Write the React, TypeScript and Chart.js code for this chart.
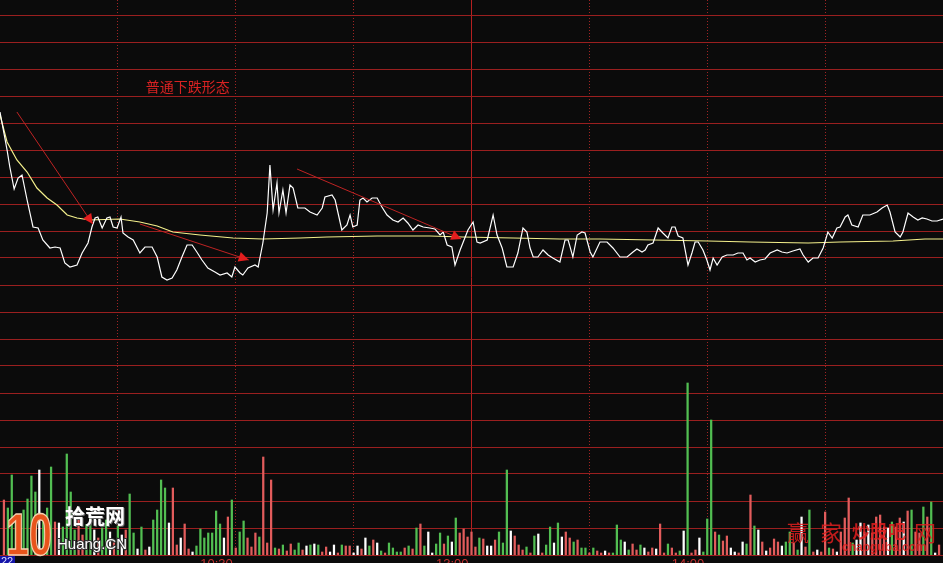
import React, { useEffect, useRef } from 'react';
import { Chart, registerables } from 'chart.js';

Chart.register(...registerables);

// ---------- data (minutes after 09:30 on the trading clock, price) ----------
const pricePath: [number, number][] = [
  [0, 13.26], [1.8, 12.88], [2.5, 12.71], [3.6, 12.49], [4.6, 12.6], [5.6, 12.63], [6.9, 12.38], [8.4, 12.11],
  [9.7, 12.1], [10.9, 11.98], [12.7, 11.9], [14.0, 11.91], [15.3, 11.9], [16.5, 11.75], [17.8, 11.71], [19.6, 11.73],
  [20.9, 11.85], [22.4, 11.95], [23.4, 12.11], [24.2, 12.2], [24.9, 12.21], [26.0, 12.1], [27.2, 12.2], [28.0, 12.21],
  [28.8, 12.11], [29.8, 12.1], [30.8, 12.21], [31.3, 12.05], [32.6, 12.01], [33.9, 11.98], [35.6, 11.85], [36.9, 11.91],
  [38.7, 11.91], [40.0, 11.81], [41.2, 11.61], [42.5, 11.58], [43.8, 11.6], [45.0, 11.68], [46.3, 11.81], [47.6, 11.93],
  [48.9, 11.93], [50.1, 11.86], [51.4, 11.78], [52.9, 11.7], [54.7, 11.66], [56.0, 11.63], [57.8, 11.65], [59.0, 11.61],
  [59.8, 11.71], [61.1, 11.65], [61.8, 11.63], [63.1, 11.7], [64.9, 11.73], [65.7, 11.71], [66.9, 11.95], [68.0, 12.25],
  [68.7, 12.73], [69.5, 12.28], [70.5, 12.55], [71.0, 12.25], [72.0, 12.48], [72.8, 12.25], [73.8, 12.53], [74.6, 12.5],
  [75.8, 12.3], [77.6, 12.3], [78.9, 12.26], [80.7, 12.23], [82.0, 12.3], [82.7, 12.41], [84.5, 12.43], [85.3, 12.38],
  [87.0, 12.08], [88.3, 12.13], [89.1, 12.23], [89.8, 12.11], [90.9, 12.13], [91.6, 12.38], [92.4, 12.4], [93.4, 12.36],
  [94.7, 12.4], [96.0, 12.4], [97.2, 12.31], [98.5, 12.23], [100.0, 12.18], [101.3, 12.16], [102.6, 12.2], [103.8, 12.15],
  [105.1, 12.08], [106.4, 12.13], [107.7, 12.11], [109.4, 12.1], [110.7, 12.09], [112.0, 12.03], [112.8, 12.06], [113.8, 11.93],
  [115.0, 11.91], [115.8, 11.73], [117.1, 11.88], [117.8, 11.95], [119.1, 12.08], [120.4, 12.16], [121.4, 11.96], [122.2, 11.95],
  [124.0, 11.98], [125.5, 12.23], [126.5, 12.03], [127.8, 11.9], [129.0, 11.71], [130.6, 11.71], [131.8, 11.85], [133.1, 12.1],
  [134.1, 12.06], [134.9, 11.9], [135.7, 11.81], [136.9, 11.81], [138.2, 11.88], [139.5, 11.83], [140.7, 11.8], [142.5, 11.76],
  [143.8, 11.98], [144.6, 11.98], [145.8, 11.81], [146.9, 12.03], [148.1, 12.06], [148.9, 12.05], [150.2, 11.86], [150.9, 11.81],
  [152.7, 11.96], [154.5, 11.96], [156.0, 11.9], [157.8, 11.81], [159.6, 11.81], [161.1, 11.86], [162.1, 11.89], [163.4, 11.86],
  [164.2, 11.88], [164.9, 11.93], [166.2, 11.95], [167.5, 12.1], [168.7, 12.05], [170.0, 12.0], [171.0, 12.11], [171.8, 12.11],
  [172.6, 12.02], [173.8, 12.0], [175.1, 11.73], [176.1, 11.85], [176.9, 11.96], [177.7, 11.96], [178.9, 11.88], [179.9, 11.78],
  [180.7, 11.68], [181.5, 11.8], [182.5, 11.73], [183.8, 11.81], [185.0, 11.83], [186.6, 11.83], [187.8, 11.85], [189.1, 11.85],
  [190.1, 11.78], [190.9, 11.8], [192.2, 11.76], [193.4, 11.78], [194.7, 11.79], [196.0, 11.85], [197.8, 11.88], [199.0, 11.86],
  [200.3, 11.85], [201.8, 11.87], [203.6, 11.89], [204.4, 11.83], [205.7, 11.76], [206.9, 11.8], [208.2, 11.8], [209.5, 11.9],
  [210.7, 12.06], [211.8, 12.0], [213.0, 12.1], [213.8, 12.11], [215.1, 12.21], [215.8, 12.23], [216.8, 12.13], [218.4, 12.11],
  [219.6, 12.23], [221.4, 12.23], [223.2, 12.26], [224.5, 12.3], [225.8, 12.33], [226.5, 12.26], [227.8, 12.06], [229.1, 12.01],
  [229.8, 12.06], [231.1, 12.25], [232.4, 12.21], [233.6, 12.18], [234.7, 12.2], [235.9, 12.19], [237.2, 12.17], [238.5, 12.17],
  [240.0, 12.19],
];

const avgPath: [number, number][] = [
  [0, 13.23], [1.8, 12.96], [4.3, 12.78], [6.9, 12.66], [9.4, 12.5], [12.0, 12.4], [14.5, 12.33], [17.1, 12.23],
  [19.6, 12.2], [22.9, 12.18], [30.5, 12.19], [35.6, 12.16], [40.0, 12.12], [44.0, 12.06], [50.9, 12.03], [59.3, 12.0],
  [66.9, 11.99], [76.4, 12.0], [83.2, 12.01], [96.0, 12.02], [109.4, 12.02], [117.8, 12.01], [130.6, 12.0], [142.5, 11.99],
  [152.7, 11.99], [180.2, 11.97], [190.9, 11.96], [205.7, 11.95], [213.8, 11.96], [227.3, 11.97], [235.4, 11.99], [240, 11.99],
];

// volume per minute, minutes 1..239
const volumes: number[] = [
  550, 470, 800, 350, 250, 450, 560, 790, 630, 850,
  380, 470, 880, 330, 320, 280, 1010, 630, 250, 350,
  200, 300, 400, 250, 170, 270, 350, 230, 150, 290,
  200, 250, 610, 220, 60, 280, 50, 80, 350, 450,
  750, 670, 320, 670, 100, 170, 310, 60, 30, 90,
  260, 170, 220, 220, 440, 310, 170, 380, 550, 70,
  230, 340, 170, 80, 220, 180, 980, 120, 750, 70,
  60, 100, 40, 110, 50, 120, 50, 90, 100, 110,
  100, 30, 80, 30, 100, 20, 100, 90, 90, 20,
  90, 60, 170, 90, 150, 120, 40, 20, 120, 70,
  30, 30, 70, 90, 60, 270, 310, 90, 230, 20,
  110, 220, 110, 190, 130, 370, 220, 260, 180, 230,
  80, 170, 160, 90, 90, 150, 230, 120, 850, 240,
  190, 100, 50, 80, 20, 190, 210, 20, 100, 280,
  120, 320, 180, 230, 170, 130, 150, 70, 70, 20,
  70, 40, 20, 40, 20, 20, 300, 150, 130, 50,
  110, 50, 100, 70, 30, 70, 60, 310, 20, 110,
  70, 20, 40, 240, 1720, 20, 50, 170, 30, 360,
  1350, 230, 200, 140, 190, 70, 30, 20, 130, 110,
  600, 290, 250, 130, 40, 70, 160, 130, 90, 130,
  230, 120, 50, 380, 80, 450, 30, 50, 30, 430,
  70, 60, 30, 230, 370, 570, 120, 150, 320, 230,
  300, 220, 380, 400, 280, 270, 330, 280, 370, 330,
  440, 450, 230, 220, 480, 380, 530, 20, 100,
];

// r = up minute, g = down minute, w = unchanged
const volumeDirs: string = [
  'rgggrggggw', 'gggrwggggr', 'rggwrggwrg', 'wrggwgrwgg', 'ggwrrwrrwg',
  'ggggggwrgr', 'ggrrrgrrrg', 'rgrrggrwgw', 'grrwwrgrrw', 'wrwgrwgrgg',
  'ggrgrgrgww', 'ggrgwgrrrr', 'rgrwwrgggw', 'rrrgrgwrgg', 'wgwrrgrggr',
  'grrwrgggwg', 'rrgwrrwrrg', 'rrgwgrrwgg', 'grgrrwwrwg', 'rgwrwrrrwg',
  'grgwrgrwrr', 'grwrrrgwwr', 'wrrrrwgrrw', 'rgrrgrgwr',
].join('');

const gridPrices: number[] = Array.from({ length: 21 }, (_, k) => +(8.83 + 0.27 * k).toFixed(2));
const priceMin = 8.83;
const priceMax = 14.38;
const volumeMax = 5550;
const dottedMinutes = [30, 60, 90, 150, 180, 210];
const solidMinutes = [120];
const timeLabelMinutes = [60, 120, 180];
const timeLabelTexts = ['10:30', '13:00', '14:00'];
const arrows: [number, number, number, number][] = [
  [4.3, 13.26, 23.6, 12.14],
  [35.6, 12.14, 63.3, 11.78],
  [75.6, 12.69, 117.4, 11.99],
];
const noteText = '普通下跌形态';
const notePos: [number, number] = [37.1, 13.51];

// ---------- styles ----------
const BG = '#0b0b0b';
const HGRID = '#9a1f1f';
const VDOT = '#a02424';
const VSOLID = '#b42020';
const UP = 'rgb(226,92,92)';
const DOWN = 'rgb(82,190,82)';
const FLAT = '#ffffff';

const decor = {
  id: 'decor',
  beforeDraw(chart: any) {
    const { ctx, width, height } = chart;
    ctx.save();
    ctx.fillStyle = BG;
    ctx.fillRect(0, 0, width, height);
    ctx.restore();
  },
  afterDraw(chart: any) {
    const { ctx, chartArea } = chart;
    const xs = chart.scales.x;
    const ys = chart.scales.y;
    ctx.save();
    // arrows
    for (const [m1, p1, m2, p2] of arrows) {
      const x1 = xs.getPixelForValue(m1), y1 = ys.getPixelForValue(p1);
      const x2 = xs.getPixelForValue(m2), y2 = ys.getPixelForValue(p2);
      ctx.strokeStyle = 'rgb(190,35,35)';
      ctx.lineWidth = 1;
      ctx.beginPath();
      ctx.moveTo(x1, y1);
      ctx.lineTo(x2, y2);
      ctx.stroke();
      const a = Math.atan2(y2 - y1, x2 - x1);
      const L = 10, Wd = 5;
      const bx = x2 - L * Math.cos(a), by = y2 - L * Math.sin(a);
      ctx.fillStyle = 'rgb(228,30,30)';
      ctx.beginPath();
      ctx.moveTo(x2, y2);
      ctx.lineTo(bx + Wd * Math.sin(a), by - Wd * Math.cos(a));
      ctx.lineTo(bx - Wd * Math.sin(a), by + Wd * Math.cos(a));
      ctx.closePath();
      ctx.fill();
    }
    // note
    ctx.fillStyle = '#d82222';
    ctx.font = '14px "Noto Sans CJK SC"';
    ctx.textBaseline = 'middle';
    ctx.textAlign = 'left';
    ctx.fillText(noteText, xs.getPixelForValue(notePos[0]), ys.getPixelForValue(notePos[1]));
    // time labels
    ctx.font = '13px "Liberation Sans"';
    ctx.textAlign = 'right';
    ctx.textBaseline = 'top';
    ctx.fillStyle = '#c83030';
    timeLabelMinutes.forEach((m, i) => {
      ctx.fillText(timeLabelTexts[i], xs.getPixelForValue(m) - 3, chartArea.bottom + 3);
    });
    // bottom-left box
    ctx.fillStyle = '#1414a8';
    ctx.fillRect(0, chartArea.bottom + 1, 15, 8);
    ctx.fillStyle = '#d8d8ff';
    ctx.font = '11px "Liberation Sans"';
    ctx.textAlign = 'left';
    ctx.fillText('22', 1, chartArea.bottom + 1);
    // logo left
    ctx.save();
    ctx.translate(6, chartArea.bottom);
    ctx.scale(0.74, 1.05);
    ctx.font = 'bold 56px "Liberation Sans"';
    ctx.textBaseline = 'alphabetic';
    ctx.fillStyle = '#e8541c';
    ctx.fillText('10', 0, 0);
    ctx.lineWidth = 1.4;
    ctx.strokeStyle = '#f6d0b0';
    ctx.strokeText('10', 0, 0);
    ctx.restore();
    ctx.font = 'bold 20px "Noto Sans CJK SC"';
    ctx.textAlign = 'left';
    ctx.textBaseline = 'top';
    ctx.fillStyle = '#666';
    ctx.fillText('拾荒网', 66, 507);
    ctx.fillStyle = '#ffffff';
    ctx.fillText('拾荒网', 65, 506);
    ctx.font = '15px "Liberation Sans"';
    ctx.lineWidth = 2;
    ctx.strokeStyle = '#333';
    ctx.strokeText('Huang.CN', 57, 537);
    ctx.fillStyle = '#ffffff';
    ctx.fillText('Huang.CN', 57, 537);
    // watermark right
    ctx.fillStyle = 'rgba(225,30,30,0.85)';
    ctx.font = '22px "Noto Sans CJK SC"';
    ctx.fillText('赢', 787, 522);
    ctx.fillText('家', 820, 522);
    ctx.font = 'bold 18px "Noto Sans CJK SC"';
    ctx.fillText('炒股吧', 852, 522);
    ctx.font = '22px "Noto Sans CJK SC"';
    ctx.fillText('网', 914, 522);
    ctx.font = 'bold 12px "Liberation Sans"';
    ctx.fillText('chaoguba.com', 842, 542);
    ctx.restore();
  },
};

export default function App() {
  const ref = useRef<HTMLCanvasElement>(null);
  useEffect(() => {
    document.body.style.margin = '0';
    document.body.style.background = BG;
    const chart = new Chart(ref.current as HTMLCanvasElement, {
      type: 'line',
      data: {
        datasets: [
          {
            type: 'line',
            label: '价格',
            data: pricePath.map(([m, p]) => ({ x: m, y: p })),
            borderColor: '#ffffff',
            borderWidth: 1.2,
            pointRadius: 0,
            tension: 0,
            xAxisID: 'x',
            yAxisID: 'y',
            order: 0,
          },
          {
            type: 'line',
            label: '均价',
            data: avgPath.map(([m, p]) => ({ x: m, y: p })),
            borderColor: '#f4f08c',
            borderWidth: 1.2,
            pointRadius: 0,
            tension: 0,
            xAxisID: 'x',
            yAxisID: 'y',
            order: 1,
          },
          {
            type: 'bar',
            label: '成交量',
            data: volumes.map((v, i) => ({ x: i + 1, y: v })),
            backgroundColor: volumeDirs.split('').map((c) => (c === 'r' ? UP : c === 'g' ? DOWN : FLAT)),
            borderWidth: 0,
            barThickness: 1.6,
            grouped: false,
            xAxisID: 'x',
            yAxisID: 'y1',
            order: 2,
          },
        ] as any,
      },
      options: {
        responsive: false,
        maintainAspectRatio: false,
        animation: false,
        events: [],
        layout: { padding: { top: 0, left: 0, right: 0, bottom: 8 } },
        plugins: { legend: { display: false }, tooltip: { enabled: false } },
        scales: {
          x: {
            type: 'linear',
            min: 0,
            max: 240,
            offset: false,
            position: 'bottom',
            afterBuildTicks: (s: any) => { s.ticks = dottedMinutes.map((v) => ({ value: v })); },
            ticks: { display: false },
            grid: { color: VDOT, lineWidth: 1, drawTicks: false, offset: false },
            border: { display: false, dash: [1, 2] },
          },
          x2: {
            type: 'linear',
            min: 0,
            max: 240,
            offset: false,
            position: 'bottom',
            afterBuildTicks: (s: any) => { s.ticks = solidMinutes.map((v) => ({ value: v })); },
            ticks: { display: false },
            grid: { color: VSOLID, lineWidth: 1, drawTicks: false, offset: false },
            border: { display: false },
          },
          y: {
            type: 'linear',
            min: priceMin,
            max: priceMax,
            position: 'left',
            afterBuildTicks: (s: any) => { s.ticks = gridPrices.map((v) => ({ value: v })); },
            ticks: { display: false },
            grid: { color: HGRID, lineWidth: 1, drawTicks: false },
            border: { display: false },
          },
          y1: {
            type: 'linear',
            min: 0,
            max: volumeMax,
            display: false,
          },
        } as any,
      },
      plugins: [decor],
    });
    return () => chart.destroy();
  }, []);
  return (
    <div style={{ width: 943, height: 563, background: BG }}>
      <canvas ref={ref} width={943} height={563} style={{ display: 'block' }} />
    </div>
  );
}
